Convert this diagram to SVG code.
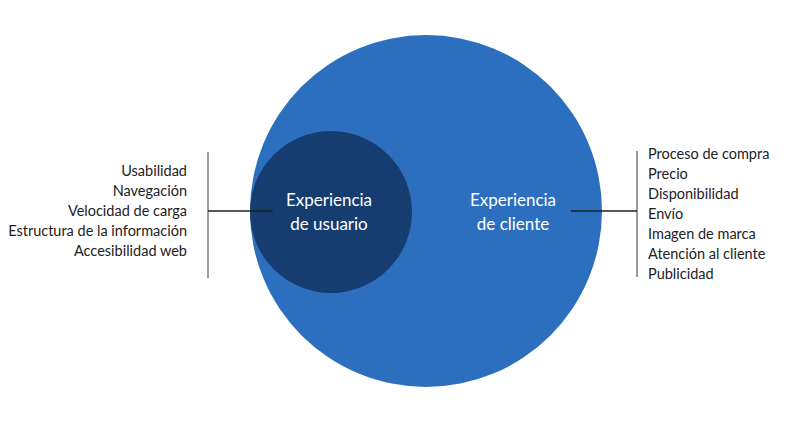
<svg xmlns="http://www.w3.org/2000/svg" width="800" height="426" viewBox="0 0 800 426">
<style>
.t{font-family:Lato,"Liberation Sans",sans-serif;font-size:14.5px;fill:#222}
.c{font-family:Lato,"Liberation Sans",sans-serif;font-size:17px;fill:#fff;text-anchor:middle}
.v{stroke:#7a7a7a;stroke-width:1.5;fill:none}
.h{stroke:#222;stroke-width:1.3;fill:none}
</style>
<rect width="800" height="426" fill="#fff"/>
<g id="cliente">
<circle cx="426" cy="211" r="176" fill="#2d6fbf"/>
<text class="c" x="513" y="206">Experiencia</text>
<text class="c" x="513" y="230">de cliente</text>
</g>
<g id="usuario">
<circle cx="331" cy="212" r="81" fill="#163d70"/>
<text class="c" x="329" y="206">Experiencia</text>
<text class="c" x="329" y="230">de usuario</text>
</g>
<g id="connectors">
<line class="v" x1="208" y1="152" x2="208" y2="278"/>
<line class="h" x1="208" y1="211" x2="273" y2="211"/>
<line class="v" x1="637" y1="151" x2="637" y2="277"/>
<line class="h" x1="571" y1="211" x2="637" y2="211"/>
</g>
<g id="lista-usuario" text-anchor="end">
<text class="t" x="187" y="176">Usabilidad</text>
<text class="t" x="187" y="196">Navegación</text>
<text class="t" x="187" y="216">Velocidad de carga</text>
<text class="t" x="187" y="236">Estructura de la información</text>
<text class="t" x="187" y="256">Accesibilidad web</text>
</g>
<g id="lista-cliente">
<text class="t" x="648" y="159">Proceso de compra</text>
<text class="t" x="648" y="179">Precio</text>
<text class="t" x="648" y="199">Disponibilidad</text>
<text class="t" x="648" y="219">Envío</text>
<text class="t" x="648" y="239">Imagen de marca</text>
<text class="t" x="648" y="259">Atención al cliente</text>
<text class="t" x="648" y="279">Publicidad</text>
</g>
</svg>
